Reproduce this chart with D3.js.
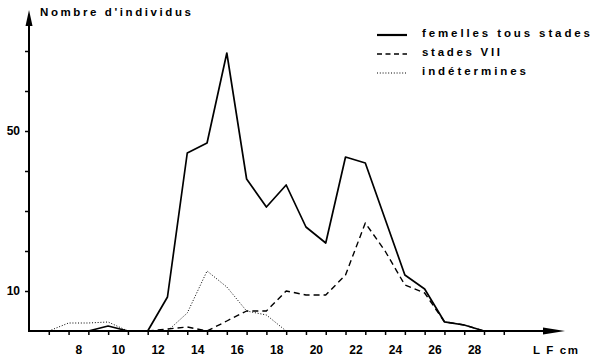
<!DOCTYPE html>
<html><head><meta charset="utf-8">
<script src="https://cdn.jsdelivr.net/npm/d3@7"></script>
<style>
body{margin:0;background:#fff}
svg{display:block}
text{font-family:"Liberation Sans",Arial,Helvetica,sans-serif;font-weight:bold;fill:#000}
</style>
</head><body>
<svg id="c" width="599" height="359"></svg>
<script>
// ---- data (class mid-points, LF cm) ----
const classMids    = [6.5,7.5,8.5,9.5,10.5,11.5,12.5,13.5,14.5,15.5,16.5,17.5,18.5,19.5,20.5,21.5,22.5,23.5,24.5,25.5,26.5,27.5,28.5];
const femelles     = [null,null,0,1.25,0,0,8.5,44.5,47,69.5,38,31,36.5,26,22,43.5,42,28,14,10.5,2.3,1.5,0];
const stadesVII    = [null,null,null,null,null,0,0.5,1,0,2.5,5,5,10,9,9,14,27,20,11.5,9.5,2.3,1.5,0];
const indetermines = [0,2,2,2.25,0,0,0,4.5,15,11,5,4,0,null,null,null,null,null,null,null,null,null,null];
const xLabels = [8,10,12,14,16,18,20,22,24,26,28];
const xTickMarks = [6.5,7.5,8.5,9.5,10.5,11.5,12.5,13.5,14.5,15.5,16.5,17.5,18.5,19.5,20.5,21.5,22.5,23.5,24.5,25.5,26.5,27.5,28.5,29.5];
const yTickMarks = [10,20,30,40,50,60,70];
const yLabels = [10,50];
const seriesNames = ["femelles  tous stades","stades VII","indétermines"];

const svg = d3.select("#c");
const x = d3.scaleLinear().domain([5.5, 28.5]).range([29, 484]);
const y = d3.scaleLinear().domain([0, 70]).range([331, 51]);

// ---- axes ----
const ax = svg.append("g");
// y axis line + arrow
ax.append("line").attr("x1",x(5.5)).attr("x2",x(5.5)).attr("y1",y(0)+1).attr("y2",18)
  .attr("stroke","#000").attr("stroke-width",2);
ax.append("path").attr("d",`M${x(5.5)},10 L${x(5.5)-3.5},26 L${x(5.5)+3.5},26 Z`).attr("fill","#000");
// x axis line + arrow
ax.append("line").attr("x1",x(5.5)-1).attr("x2",548).attr("y1",y(0)).attr("y2",y(0))
  .attr("stroke","#000").attr("stroke-width",2.2);
ax.append("path").attr("d",`M565,${y(0)} L543,${y(0)-3.5} L543,${y(0)+3.5} Z`).attr("fill","#000");

// x tick marks (class limits)
const xt = svg.append("g").attr("transform",`translate(0,${y(0)})`)
  .call(d3.axisBottom(x).tickValues(xTickMarks).tickSize(4).tickFormat(""));
xt.select(".domain").remove();
xt.selectAll(".tick line").attr("stroke","#000").attr("stroke-width",1.5);
// x labels
const xl = svg.append("g").attr("transform",`translate(0,${y(0)})`)
  .call(d3.axisBottom(x).tickValues(xLabels).tickSize(0).tickPadding(14).tickFormat(d3.format("d")));
xl.select(".domain").remove();
xl.selectAll(".tick text").style("font-size","12px").style("font-family",'"Liberation Sans",Arial,sans-serif').style("font-weight","bold").attr("fill","#000");

// y ticks
const yt = svg.append("g").attr("transform",`translate(${x(5.5)},0)`)
  .call(d3.axisLeft(y).tickValues(yTickMarks).tickSize(4).tickFormat(""));
yt.select(".domain").remove();
yt.selectAll(".tick line").attr("stroke","#000").attr("stroke-width",1.5);
const yl = svg.append("g").attr("transform",`translate(${x(5.5)},0)`)
  .call(d3.axisLeft(y).tickValues(yLabels).tickSize(0).tickPadding(9).tickFormat(d3.format("d")));
yl.select(".domain").remove();
yl.selectAll(".tick text").style("font-size","12px").style("font-family",'"Liberation Sans",Arial,sans-serif').style("font-weight","bold").attr("fill","#000");

// titles
svg.append("text").attr("x",40).attr("y",16).attr("textLength",151).attr("lengthAdjust","spacing")
  .style("font-size","11.5px").text("Nombre d'individus");
svg.append("text").attr("x",533).attr("y",354).attr("textLength",45).attr("lengthAdjust","spacing")
  .style("font-size","11.5px").text("L F cm");

// ---- series ----
const styles = [
  {data: femelles, w: 1.7, dash: null},
  {data: stadesVII, w: 1.4, dash: "6,4"},
  {data: indetermines, w: 1, dash: "1,1.8"}
];
const line = d3.line().defined(d => d[1] !== null).x(d => x(d[0])).y(d => y(d[1]));
styles.forEach(s => {
  svg.append("path")
    .datum(classMids.map((m,i) => [m, s.data[i]]))
    .attr("d", line).attr("fill","none").attr("stroke","#000")
    .attr("stroke-width", s.w).attr("stroke-dasharray", s.dash)
    .attr("stroke-linejoin","round");
});

// ---- legend ----
const legY = [35, 54, 73];
const legLen = [168, 78, 104];
seriesNames.forEach((n,i) => {
  svg.append("line").attr("x1",377).attr("x2",407).attr("y1",legY[i]).attr("y2",legY[i])
    .attr("stroke","#000").attr("stroke-width",styles[i].w + (i===0?0.5:0))
    .attr("stroke-dasharray", i===1 ? "5,3.5" : styles[i].dash);
  svg.append("text").attr("x",422).attr("y",legY[i]+2).attr("textLength",legLen[i]).attr("lengthAdjust","spacing")
    .style("font-size","11.5px").text(n);
});
</script>
</body></html>
